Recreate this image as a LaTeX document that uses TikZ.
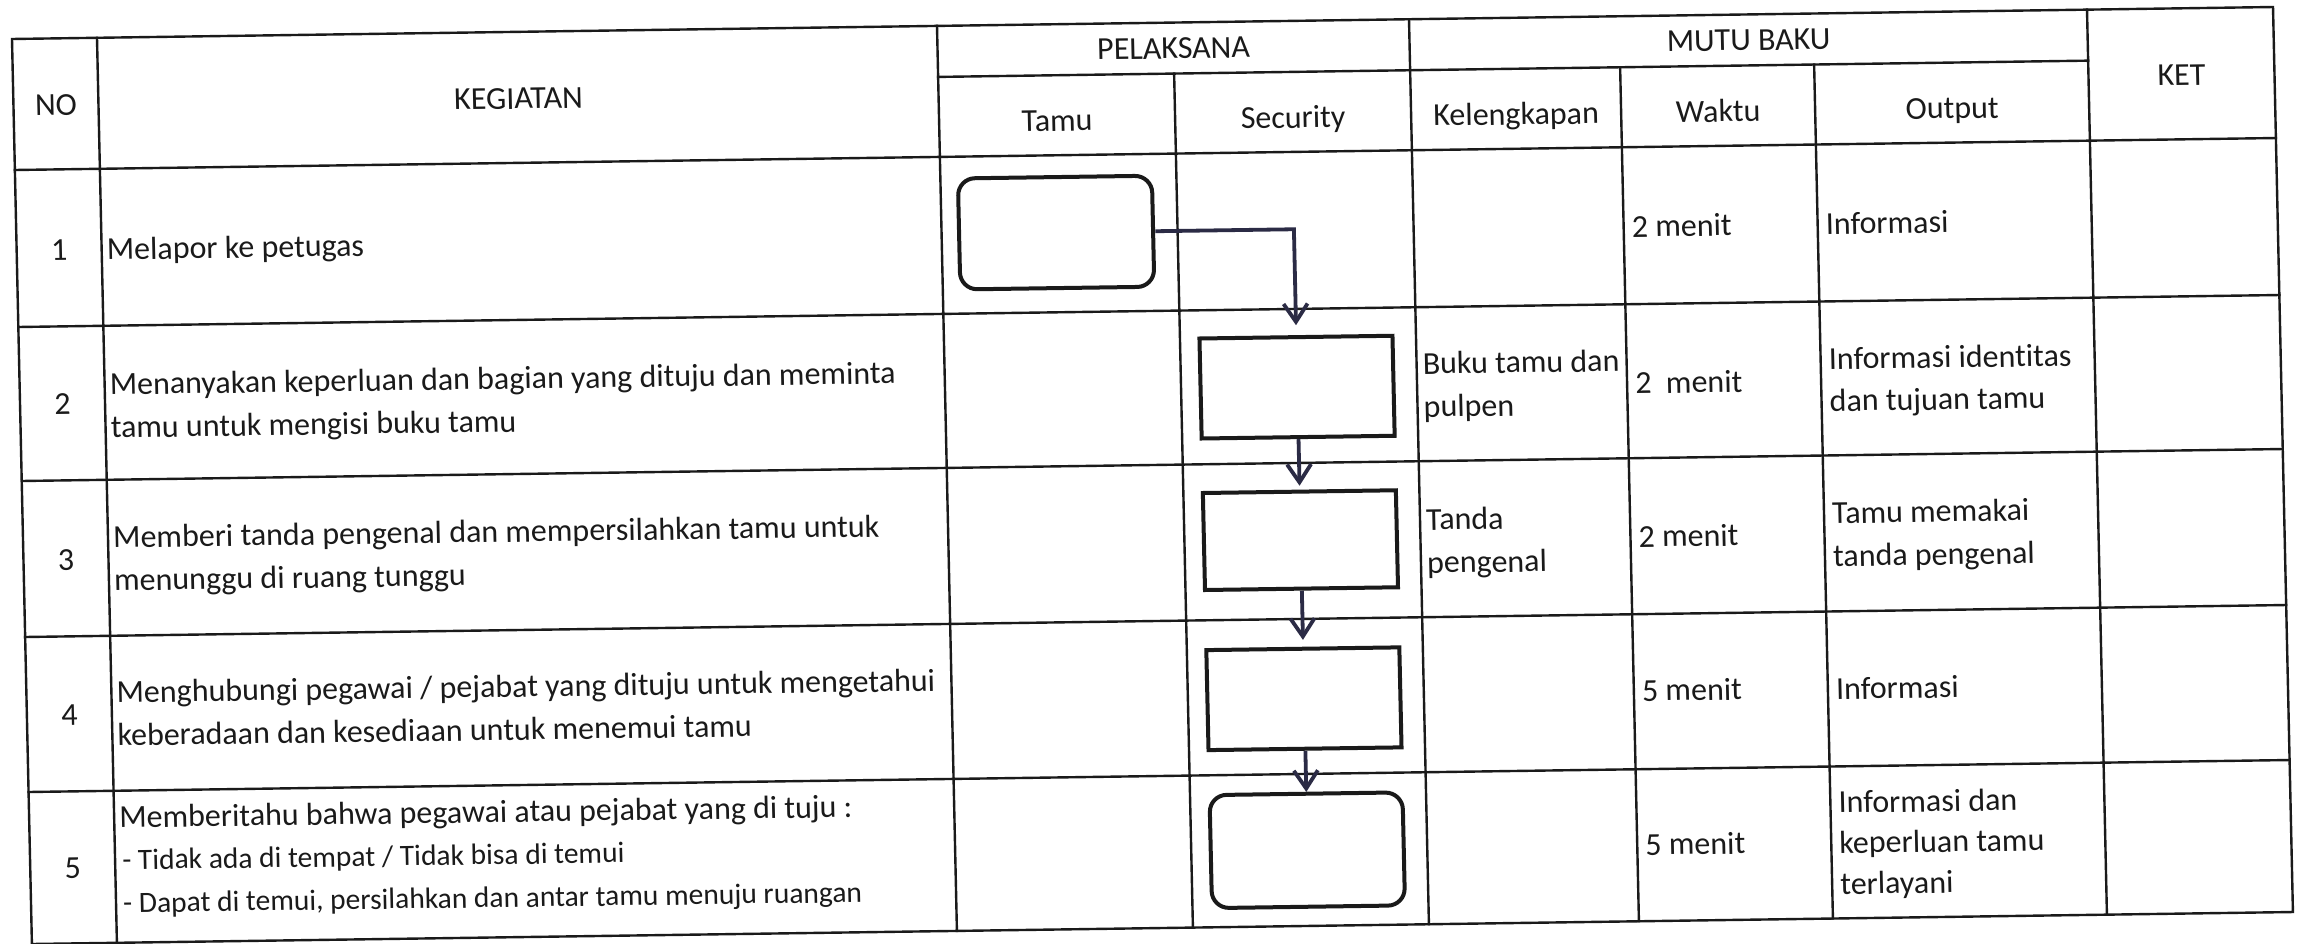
\documentclass[tikz,border=0pt]{standalone}
\usepackage{fontspec}
\setmainfont{Carlito}[Ligatures=NoCommon]
\usetikzlibrary{arrows.meta}
\definecolor{ink}{HTML}{1A1A1A}
\definecolor{arrowc}{HTML}{2B2B45}
\tikzset{
  tline/.style={line width=2.4pt, draw=ink, line cap=rect},
  hdr/.style={anchor=base, inner sep=0pt, font=\fontsize{32}{43}\selectfont, text=ink},
  txt/.style={anchor=base west, inner sep=0pt, font=\fontsize{32}{43}\selectfont, text=ink},
  smalltxt/.style={anchor=base west, inner sep=0pt, font=\fontsize{29.5}{43}\selectfont, text=ink},
  num/.style={anchor=base, inner sep=0pt, font=\fontsize{32}{43}\selectfont, text=ink},
  proc/.style={draw=ink, line width=4pt, rectangle, minimum width=193pt, inner sep=0pt},
  term/.style={proc, rounded corners=17pt},
  flow/.style={draw=arrowc, line width=3.8pt, -{Straight Barb[length=18pt,width=24pt]}},
}
\begin{document}
\begin{tikzpicture}[x=1pt,y=1pt]
\fill[white] (0,0) rectangle (2308,-944);
\useasboundingbox (0,0) rectangle (2308,-944);
\begin{scope}[cm={1,0.01415,-0.022,1,(12pt,-39pt)}, every node/.append style={transform shape}]
% table frame
\draw[tline] (0,0) rectangle (2261,-905);
\foreach \u in {85,925,1397,2075} \draw[tline] (\u,0) -- (\u,-905);
\foreach \u in {1161,1607,1801} \draw[tline] (\u,-51) -- (\u,-905);
\draw[tline] (925,-51) -- (2075,-51);
\foreach \v in {131,288,442,598,753} \draw[tline] (0,-\v) -- (2261,-\v);
% header
\node[hdr] (hNo) at (42.5,-77) {NO};
\node[hdr] (hKeg) at (505,-77) {KEGIATAN};
\node[hdr] (hPel) at (1161,-36) {PELAKSANA};
\node[hdr] (hMutu) at (1736,-36) {MUTU BAKU};
\node[hdr] (hKet) at (2168,-77) {KET};
\node[hdr] (hTamu) at (1043,-107) {Tamu};
\node[hdr] (hSec) at (1279,-107) {Security};
\node[hdr] (hKel) at (1502,-107) {Kelengkapan};
\node[hdr] (hWak) at (1704,-107) {Waktu};
\node[hdr] (hOut) at (1938,-107) {Output};
% numbers
\node[num] (n1) at (42.5,-221.5) {1};
\node[num] (n2) at (42.5,-376) {2};
\node[num] (n3) at (42.5,-532) {3};
\node[num] (n4) at (42.5,-687) {4};
\node[num] (n5) at (42.5,-840) {5};
% kegiatan
\node[txt] (k1) at (90,-222) {Melapor ke petugas};
\node[txt] (k2a) at (90,-357) {Menanyakan keperluan dan bagian yang dituju dan meminta};
\node[txt] (k2b) at (90,-400) {tamu untuk mengisi buku tamu};
\node[txt] (k3a) at (90,-510) {Memberi tanda pengenal dan mempersilahkan tamu untuk};
\node[txt] (k3b) at (90,-553) {menunggu di ruang tunggu};
\node[txt] (k4a) at (90,-665) {Menghubungi pegawai / pejabat yang dituju untuk mengetahui};
\node[txt] (k4b) at (90,-708) {keberadaan dan kesediaan untuk menemui tamu};
\node[txt] (k5a) at (90,-790) {Memberitahu bahwa pegawai atau pejabat yang di tuju :};
\node[smalltxt] (k5b) at (92,-832) {- Tidak ada di tempat / Tidak bisa di temui};
\node[smalltxt] (k5c) at (92,-875) {- Dapat di temui, persilahkan dan antar tamu menuju ruangan};
% kelengkapan
\node[txt] (l2a) at (1403,-355) {Buku tamu dan};
\node[txt] (l2b) at (1403,-398) {pulpen};
\node[txt] (l3a) at (1403,-511) {Tanda};
\node[txt] (l3b) at (1403,-554) {pengenal};
% waktu
\node[txt] (w1) at (1615,-221) {2 menit};
\node[txt] (w2) at (1615,-377.5) {2\ \ menit};
\node[txt] (w3) at (1615,-531) {2 menit};
\node[txt] (w4) at (1615,-685) {5 menit};
\node[txt] (w5) at (1615,-839) {5 menit};
% output
\node[txt] (o1) at (1809,-221) {Informasi};
\node[txt] (o2a) at (1809,-356) {Informasi identitas};
\node[txt] (o2b) at (1809,-398) {dan tujuan tamu};
\node[txt] (o3a) at (1809,-510) {Tamu memakai};
\node[txt] (o3b) at (1809,-553) {tanda pengenal};
\node[txt] (o4) at (1809,-686) {Informasi};
\node[txt] (o5a) at (1809,-799.5) {Informasi dan};
\node[txt] (o5b) at (1809,-840) {keperluan tamu};
\node[txt] (o5c) at (1809,-881) {terlayani};
% flow
\node[term, minimum width=194pt, minimum height=111pt] (b1) at (1039.5,-208.3) {};
\node[proc, minimum height=100pt] (b2) at (1277,-366.2) {};
\node[proc, minimum height=97pt] (b3) at (1277,-519.2) {};
\node[proc, minimum height=100pt] (b4) at (1277,-677.8) {};
\node[term, minimum height=113pt] (b5) at (1277,-829.3) {};
\draw[flow, shorten >=10pt] (b1.east) -| (b2.north);
\draw[flow, shorten >=4pt] (b2.south) -- (b3.north);
\draw[flow, shorten >=7pt] (b3.south) -- (b4.north);
\draw[flow] (b4.south) -- (b5.north);
\end{scope}
\end{tikzpicture}
\end{document}
